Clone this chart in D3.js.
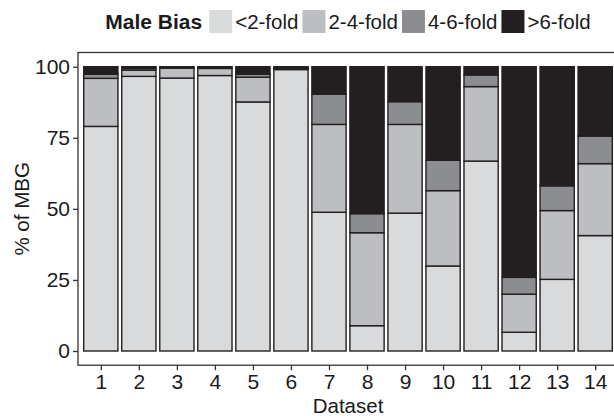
<!DOCTYPE html>
<html>
<head>
<meta charset="utf-8">
<script src="https://cdn.jsdelivr.net/npm/d3@7"></script>
<style>
  body { margin: 0; background: #fff; }
  text { font-family: "Liberation Sans", Arial, sans-serif; fill: #1a1a1a; }
</style>
</head>
<body>
<svg></svg>
<script>
// Chart data
const datasets = ["1", "2", "3", "4", "5", "6", "7", "8", "9", "10", "11", "12", "13", "14"];
const biasLabels = ["<2-fold", "2-4-fold", "4-6-fold", ">6-fold"];
const lt2fold = [79, 96.6, 96.0, 96.9, 87.6, 99.0, 48.8, 8.9, 48.5, 29.9, 66.8, 6.6, 25.2, 40.6];
const fold2to4 = [16.9, 2.2, 3.5, 2.5, 8.7, 0.3, 30.9, 32.7, 31.2, 26.5, 26.2, 13.4, 24.2, 25.3];
const fold4to6 = [1.5, 0.6, 0.1, 0.2, 1.1, 0.2, 10.6, 6.7, 8.0, 10.7, 4.1, 5.9, 8.7, 9.7];
const gt6fold = [2.6, 0.6, 0.4, 0.4, 2.6, 0.5, 9.7, 51.7, 12.3, 32.9, 2.9, 74.1, 41.9, 24.4];
const yTicks = [0, 25, 50, 75, 100];
const colors = ["#d9dadc", "#bdbec1", "#8c8d90", "#231f20"];

const width = 614, height = 416;
const svg = d3.select("svg").attr("width", width).attr("height", height);

// Panel box (ggplot style with expansion)
const panel = { left: 78, right: 618 };

const x = d3.scalePoint().domain(datasets).range([panel.left, panel.right]).padding(0.6);
const barW = x.step() * 0.9;
const y = d3.scaleLinear().domain([0, 100]).range([351, 66.7]);
panel.top = y(105);
panel.bottom = y(-5);

// Stack the series
const rows = datasets.map((d, i) => ({
  dataset: d,
  "<2-fold": lt2fold[i],
  "2-4-fold": fold2to4[i],
  "4-6-fold": fold4to6[i],
  ">6-fold": gt6fold[i]
}));
const stack = d3.stack().keys(biasLabels)(rows);

const color = d3.scaleOrdinal().domain(biasLabels).range(colors);

// Bars
const layers = svg.append("g").selectAll("g")
  .data(stack)
  .join("g")
  .attr("fill", d => color(d.key));

layers.selectAll("rect")
  .data(d => d)
  .join("rect")
  .attr("x", d => x(d.data.dataset) - barW / 2)
  .attr("width", barW)
  .attr("y", d => y(d[1]))
  .attr("height", d => y(d[0]) - y(d[1]))
  .attr("stroke", "#231f20")
  .attr("stroke-width", 1.4);

// Panel border
svg.append("rect")
  .attr("x", panel.left)
  .attr("y", panel.top)
  .attr("width", panel.right - panel.left)
  .attr("height", panel.bottom - panel.top)
  .attr("fill", "none")
  .attr("stroke", "#333")
  .attr("stroke-width", 1.3);

// Axes
const yAxis = svg.append("g")
  .attr("transform", `translate(${panel.left},0)`)
  .call(d3.axisLeft(y).tickValues(yTicks).tickSize(5).tickPadding(3));
const xAxis = svg.append("g")
  .attr("transform", `translate(0,${panel.bottom})`)
  .call(d3.axisBottom(x).tickSize(5).tickPadding(4));

[yAxis, xAxis].forEach(ax => {
  ax.select(".domain").remove();
  ax.selectAll(".tick line").attr("stroke", "#333").attr("stroke-width", 1.3);
  ax.selectAll(".tick text")
    .attr("font-family", "Liberation Sans, Arial, sans-serif")
    .attr("font-size", 21)
    .attr("fill", "#1a1a1a");
});

// Axis titles
svg.append("text")
  .attr("x", (panel.left + panel.right) / 2)
  .attr("y", 413)
  .attr("text-anchor", "middle")
  .attr("font-size", 20.5)
  .text("Dataset");

svg.append("text")
  .attr("transform", `translate(29,${(panel.top + panel.bottom) / 2}) rotate(-90)`)
  .attr("text-anchor", "middle")
  .attr("font-size", 20.5)
  .text("% of MBG");

// Legend on top
const legend = svg.append("g");
let lx = 0;
legend.append("text")
  .attr("x", lx).attr("y", 28.5)
  .attr("font-size", 21)
  .attr("font-weight", "bold")
  .text("Male Bias")
  .each(function () { lx += this.getComputedTextLength() + 7; });

biasLabels.forEach(k => {
  legend.append("rect")
    .attr("x", lx).attr("y", 10)
    .attr("width", 23).attr("height", 23)
    .attr("fill", color(k));
  lx += 26;
  legend.append("text")
    .attr("x", lx).attr("y", 28.5)
    .attr("font-size", 20.5)
    .text(k)
    .each(function () { lx += this.getComputedTextLength() + 4; });
});
lx -= 4;
legend.attr("transform", `translate(${(panel.left + panel.right) / 2 - lx / 2},0)`);
</script>
</body>
</html>
